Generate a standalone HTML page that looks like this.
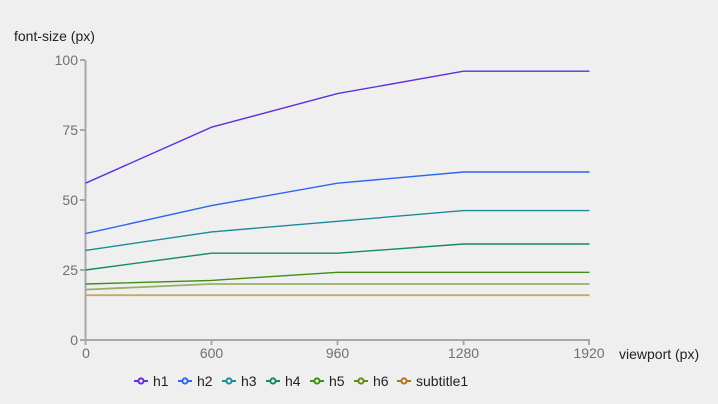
<!DOCTYPE html>
<html><head><meta charset="utf-8"><style>
html,body{margin:0;padding:0;background:#efefef;}
svg{display:block;font-family:"Liberation Sans",Arial,sans-serif;}
</style></head><body>
<svg width="718" height="404" viewBox="0 0 718 404" xmlns="http://www.w3.org/2000/svg">
<rect width="718" height="404" fill="#efefef"/>
<text x="14" y="41" font-size="14" fill="#222">font-size (px)</text>
<text x="619" y="359" font-size="14" fill="#222">viewport (px)</text>
<!-- axes -->
<g stroke="#a8a8a8" stroke-width="2" fill="none">
<line x1="85.5" y1="60" x2="85.5" y2="341"/>
<line x1="84.5" y1="340" x2="590" y2="340"/>
<line x1="80" y1="60" x2="85" y2="60"/>
<line x1="80" y1="130" x2="85" y2="130"/>
<line x1="80" y1="200" x2="85" y2="200"/>
<line x1="80" y1="270" x2="85" y2="270"/>
<line x1="80" y1="340" x2="85" y2="340"/>
<line x1="85.5" y1="340" x2="85.5" y2="345"/>
<line x1="211.5" y1="340" x2="211.5" y2="345"/>
<line x1="337.5" y1="340" x2="337.5" y2="345"/>
<line x1="463.5" y1="340" x2="463.5" y2="345"/>
<line x1="589" y1="340" x2="589" y2="345"/>
</g>
<g font-size="14" fill="#707070" text-anchor="end">
<text x="78" y="65">100</text>
<text x="78" y="135">75</text>
<text x="78" y="205">50</text>
<text x="78" y="275">25</text>
<text x="78" y="345">0</text>
</g>
<g font-size="14" fill="#707070" text-anchor="middle">
<text x="86" y="358">0</text>
<text x="211.5" y="358">600</text>
<text x="337.5" y="358">960</text>
<text x="463.5" y="358">1280</text>
<text x="589" y="358">1920</text>
</g>
<!-- series -->
<g fill="none" stroke-width="1.4">
<polyline stroke="#c9a56a" stroke-width="1.8" points="85.5,295.2 211.5,295.2 337.5,295.2 463.5,295.2 589.5,295.2"/>
<polyline stroke="#9aae6a" stroke-width="1.8" points="85.5,289.6 211.5,284 337.5,284 463.5,284 589.5,284"/>
<polyline stroke="#3f8f10" points="85.5,284 211.5,280.4 337.5,272.3 463.5,272.3 589.5,272.3"/>
<polyline stroke="#14886a" points="85.5,270 211.5,253.2 337.5,253.2 463.5,244 589.5,244"/>
<polyline stroke="#1c8a9e" points="85.5,250.4 211.5,231.9 337.5,221.3 463.5,210.6 589.5,210.6"/>
<polyline stroke="#2f66ee" points="85.5,233.6 211.5,205.6 337.5,183.2 463.5,172 589.5,172"/>
<polyline stroke="#6030d8" points="85.5,183.2 211.5,127.2 337.5,93.6 463.5,71.2 589.5,71.2"/>
</g>
<!-- legend -->
<g stroke-width="2" fill="#efefef">
<line x1="134" y1="381" x2="148" y2="381" stroke="#6030d8"/><circle cx="141" cy="381" r="2.6" stroke="#6030d8"/>
<line x1="178" y1="381" x2="192" y2="381" stroke="#2f66ee"/><circle cx="185" cy="381" r="2.6" stroke="#2f66ee"/>
<line x1="222" y1="381" x2="236" y2="381" stroke="#1c8a9e"/><circle cx="229" cy="381" r="2.6" stroke="#1c8a9e"/>
<line x1="266" y1="381" x2="280" y2="381" stroke="#14886a"/><circle cx="273" cy="381" r="2.6" stroke="#14886a"/>
<line x1="310" y1="381" x2="324" y2="381" stroke="#3f8f10"/><circle cx="317" cy="381" r="2.6" stroke="#3f8f10"/>
<line x1="354" y1="381" x2="368" y2="381" stroke="#668a10"/><circle cx="361" cy="381" r="2.6" stroke="#668a10"/>
<line x1="397" y1="381" x2="411" y2="381" stroke="#b0741a"/><circle cx="404" cy="381" r="2.6" stroke="#b0741a"/>
</g>
<g font-size="14" fill="#222">
<text x="153" y="386">h1</text>
<text x="197" y="386">h2</text>
<text x="241" y="386">h3</text>
<text x="285" y="386">h4</text>
<text x="329" y="386">h5</text>
<text x="373" y="386">h6</text>
<text x="416" y="386">subtitle1</text>
</g>
</svg>
</body></html>
